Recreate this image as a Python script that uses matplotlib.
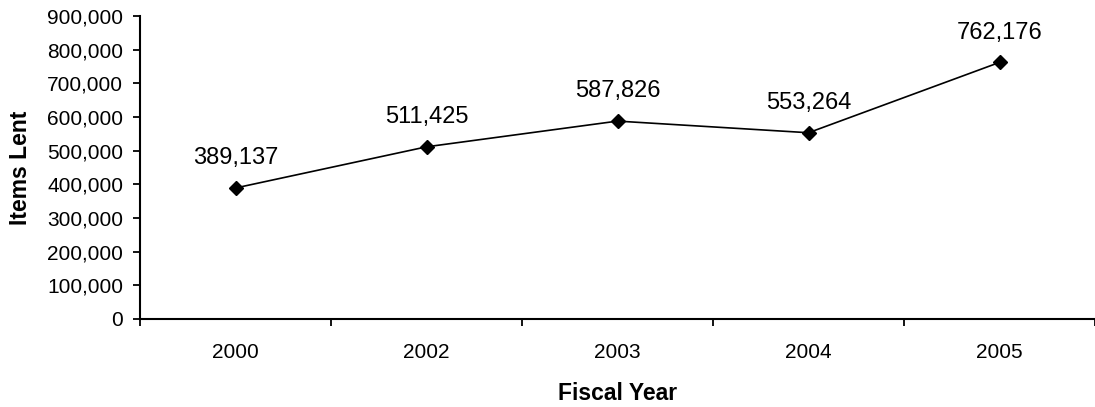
import matplotlib
matplotlib.use("Agg")
import matplotlib.pyplot as plt
from matplotlib.ticker import FuncFormatter, FixedLocator

plt.rcParams['font.family'] = ['Liberation Sans', 'DejaVu Sans']

years = ["2000", "2002", "2003", "2004", "2005"]
items_lent = [389137, 511425, 587826, 553264, 762176]
y_ticks = [0, 100000, 200000, 300000, 400000, 500000, 600000, 700000, 800000, 900000]

fig = plt.figure(figsize=(10.95, 4.07), dpi=100)
ax = fig.add_axes([140 / 1095, 88 / 407, 955 / 1095, 303 / 407])

x = list(range(len(years)))
ax.plot(x, items_lent, color='black', linewidth=1.2, marker='D', markersize=7.5,
        markerfacecolor='black', markeredgecolor='black', zorder=3,
        clip_on=False)

for xi, v in zip(x, items_lent):
    ax.annotate(f"{v:,}", (xi, v), xytext=(0, 17), textcoords='offset points',
                ha='center', va='baseline', fontsize=17)

ax.set_xlim(-0.5, len(years) - 0.5)
ax.set_ylim(0, 900000)
ax.set_yticks(y_ticks)
ax.yaxis.set_major_formatter(FuncFormatter(lambda v, p: f"{int(v):,}"))

# category labels centred, tick marks on category boundaries
ax.set_xticks(x)
ax.set_xticklabels(years, fontsize=15)
ax.tick_params(axis='x', which='major', length=0, pad=17)
ax.xaxis.set_minor_locator(FixedLocator([i - 0.5 for i in range(len(years) + 1)]))
ax.tick_params(axis='x', which='minor', length=5, width=1.3, direction='out')
ax.tick_params(axis='y', length=5, width=1.3, direction='out', labelsize=15, pad=7)

for side in ['top', 'right']:
    ax.spines[side].set_visible(False)
for side in ['left', 'bottom']:
    ax.spines[side].set_linewidth(1.5)

ax.set_ylabel("Items Lent", fontsize=16.5, fontweight='bold')
ax.yaxis.set_label_coords(-0.113, 0.5)
ax.set_xlabel("Fiscal Year", fontsize=16.5, fontweight='bold')
ax.xaxis.set_label_coords(0.5, -0.208)

fig.savefig("out.png", dpi=100)
